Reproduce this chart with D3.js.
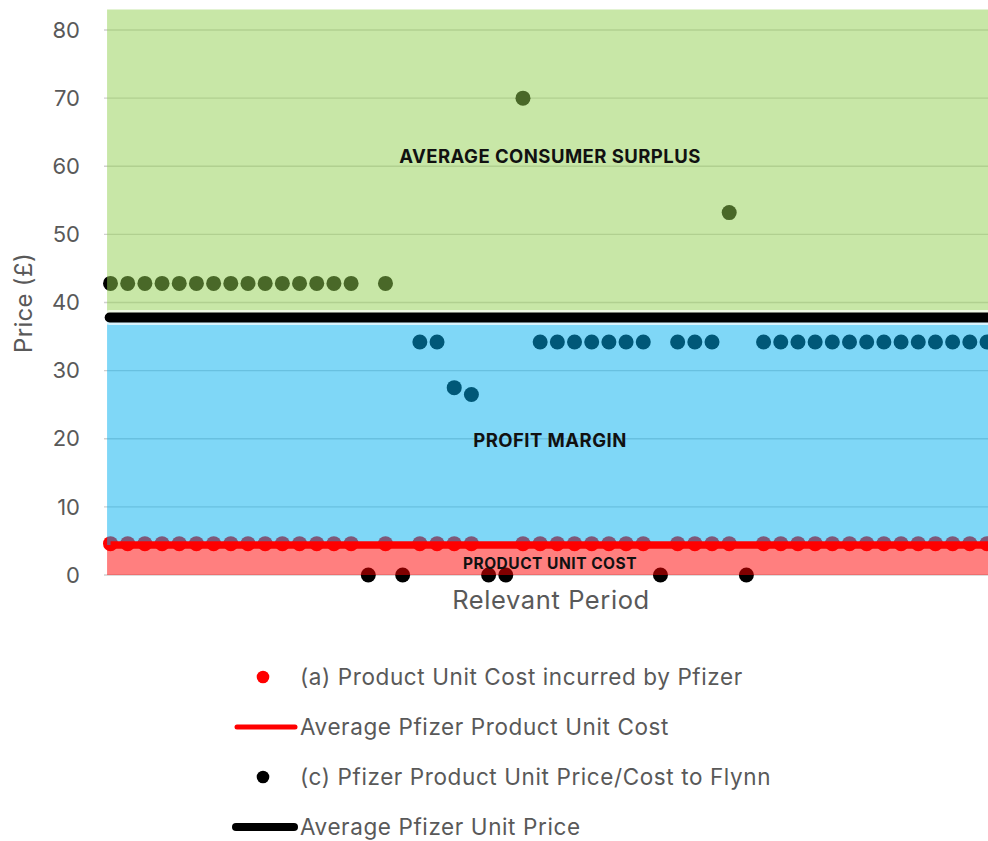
<!DOCTYPE html>
<html>
<head>
<meta charset="utf-8">
<script src="https://cdn.jsdelivr.net/npm/d3@7"></script>
<style>
  body { margin: 0; background: #fff; }
  #chart svg { display: block; font-family: Inter, "Open Sans", sans-serif; }
</style>
</head>
<body>
<div id="chart"></div>
<script>
// (c) Pfizer product unit price / cost to Flynn, one value per period
const unitPrice = [
  42.8, 42.8, 42.8, 42.8, 42.8, 42.8, 42.8, 42.8, 42.8, 42.8,
  42.8, 42.8, 42.8, 42.8, 42.8, 0, 42.8, 0, 34.2, 34.2,
  27.5, 26.5, 0, 0, 70, 34.2, 34.2, 34.2, 34.2, 34.2,
  34.2, 34.2, 0, 34.2, 34.2, 34.2, 53.2, 0, 34.2, 34.2,
  34.2, 34.2, 34.2, 34.2, 34.2, 34.2, 34.2, 34.2, 34.2, 34.2,
  34.2, 34.2
];
// (a) product unit cost incurred by Pfizer (null = no value that period)
const unitCost = [
  4.6, 4.6, 4.6, 4.6, 4.6, 4.6, 4.6, 4.6, 4.6, 4.6,
  4.6, 4.6, 4.6, 4.6, 4.6, null, 4.6, null, 4.6, 4.6,
  4.6, 4.6, null, null, 4.6, 4.6, 4.6, 4.6, 4.6, 4.6,
  4.6, 4.6, null, 4.6, 4.6, 4.6, 4.6, null, 4.6, 4.6,
  4.6, 4.6, 4.6, 4.6, 4.6, 4.6, 4.6, 4.6, 4.6, 4.6,
  4.6, 4.6
];
const avgUnitCost = 4.4;
const avgUnitPrice = 37.8;
const chartTop = 83;
const yTicks = [0, 10, 20, 30, 40, 50, 60, 70, 80];

const bandNames = ["PRODUCT UNIT COST", "PROFIT MARGIN", "AVERAGE CONSUMER SURPLUS"];
const bandFrom = [0, avgUnitCost, avgUnitPrice];
const bandTo = [avgUnitCost, avgUnitPrice, chartTop];

const legendLabels = [
  "(a) Product Unit Cost incurred by Pfizer",
  "Average Pfizer Product Unit Cost",
  "(c) Pfizer Product Unit Price/Cost to Flynn",
  "Average Pfizer Unit Price"
];

const width = 988;
const height = 841;
const bandColors = ["#ff0000", "#00b0f0", "#92d050"];
const textGrey = "#595959";

const svg = d3.select("#chart").append("svg")
  .attr("width", width)
  .attr("height", height);

const last = unitPrice.length - 1;
const x = d3.scaleLinear().domain([0, last]).range([110.5, 987]);
const y = d3.scaleLinear().domain([0, 80]).range([575, 30]);

// gridlines
svg.append("g")
  .selectAll("line")
  .data(yTicks)
  .enter()
  .append("line")
    .attr("x1", 104)
    .attr("x2", width)
    .attr("y1", d => y(d))
    .attr("y2", d => y(d))
    .attr("stroke", "#d0d0d0")
    .attr("stroke-width", 1.4);

// dots sit under the translucent bands, like the original
svg.append("g")
  .selectAll("circle")
  .data(unitCost.map((v, i) => [i, v]).filter(d => d[1] !== null))
  .enter()
  .append("circle")
    .attr("cx", d => x(d[0]))
    .attr("cy", d => y(d[1]))
    .attr("r", 7.5)
    .attr("fill", "#ff0000");

svg.append("g")
  .selectAll("circle")
  .data(unitPrice.map((v, i) => [i, v]))
  .enter()
  .append("circle")
    .attr("cx", d => x(d[0]))
    .attr("cy", d => y(d[1]))
    .attr("r", 7.5)
    .attr("fill", "#000");

// bands
const area = d3.area()
  .x(d => x(d[0]))
  .y0(d => y(d[1]))
  .y1(d => y(d[2]));

svg.append("g")
  .selectAll("path")
  .data(bandNames)
  .enter()
  .append("path")
    .attr("d", (d, i) => area([[-0.2, bandFrom[i], bandTo[i]], [last + 0.2, bandFrom[i], bandTo[i]]]))
    .attr("fill", (d, i) => bandColors[i])
    .attr("fill-opacity", 0.5);

// average lines
const avgLine = d3.line().x(d => x(d[0])).y(d => y(d[1]));

svg.append("path")
  .attr("d", avgLine([[0, avgUnitCost], [last + 0.3, avgUnitCost]]))
  .attr("stroke", "#ff0000")
  .attr("stroke-width", 7.5)
  .attr("fill", "none");

svg.append("path")
  .attr("d", avgLine([[-0.05, avgUnitPrice], [last + 0.3, avgUnitPrice]]))
  .attr("stroke", "#fff")
  .attr("stroke-opacity", 0.7)
  .attr("stroke-width", 15)
  .attr("stroke-linecap", "round")
  .attr("fill", "none");

svg.append("path")
  .attr("d", avgLine([[-0.05, avgUnitPrice], [last + 0.3, avgUnitPrice]]))
  .attr("stroke", "#000")
  .attr("stroke-width", 10)
  .attr("stroke-linecap", "round")
  .attr("fill", "none");

// band labels
const labelY = [1.7, 19.7, 61.4];
const labelSize = [15.5, 18.5, 18.5];
svg.append("g")
  .selectAll("text")
  .data(bandNames)
  .enter()
  .append("text")
    .attr("x", 550)
    .attr("y", (d, i) => y(labelY[i]))
    .attr("dy", "0.35em")
    .attr("text-anchor", "middle")
    .attr("font-weight", 700)
    .attr("font-size", (d, i) => labelSize[i])
    .attr("letter-spacing", (d, i) => i === 0 ? 0.5 : 0.45)
    .attr("fill", "#111")
    .text(d => d);

// y axis labels
svg.append("g")
  .selectAll("text")
  .data(yTicks)
  .enter()
  .append("text")
    .attr("x", 80)
    .attr("y", d => y(d))
    .attr("dy", "0.35em")
    .attr("text-anchor", "end")
    .attr("font-size", 22)
    .attr("fill", textGrey)
    .text(d => d);

svg.append("text")
  .attr("transform", "translate(24,303) rotate(-90)")
  .attr("dy", "0.35em")
  .attr("text-anchor", "middle")
  .attr("font-size", 24)
  .attr("letter-spacing", 0.3)
  .attr("fill", textGrey)
  .text("Price (£)");

svg.append("text")
  .attr("x", 551)
  .attr("y", 600)
  .attr("dy", "0.35em")
  .attr("text-anchor", "middle")
  .attr("font-size", 25.5)
  .attr("letter-spacing", 0.6)
  .attr("fill", textGrey)
  .text("Relevant Period");

// legend
const legendTop = 677;
const legendGap = 50;
const legend = svg.append("g");

legend.selectAll("text")
  .data(legendLabels)
  .enter()
  .append("text")
    .attr("x", 300)
    .attr("y", (d, i) => legendTop + i * legendGap)
    .attr("dy", "0.35em")
    .attr("font-size", 22.5)
    .attr("letter-spacing", 0.6)
    .attr("fill", textGrey)
    .text(d => d);

legend.append("circle")
  .attr("cx", 263).attr("cy", legendTop).attr("r", 6.3).attr("fill", "#ff0000");
legend.append("line")
  .attr("x1", 237).attr("x2", 295)
  .attr("y1", legendTop + legendGap).attr("y2", legendTop + legendGap)
  .attr("stroke", "#ff0000").attr("stroke-width", 5).attr("stroke-linecap", "round");
legend.append("circle")
  .attr("cx", 263).attr("cy", legendTop + 2 * legendGap).attr("r", 6.3).attr("fill", "#000");
legend.append("line")
  .attr("x1", 236).attr("x2", 294)
  .attr("y1", legendTop + 3 * legendGap).attr("y2", legendTop + 3 * legendGap)
  .attr("stroke", "#000").attr("stroke-width", 8).attr("stroke-linecap", "round");
</script>
</body>
</html>
